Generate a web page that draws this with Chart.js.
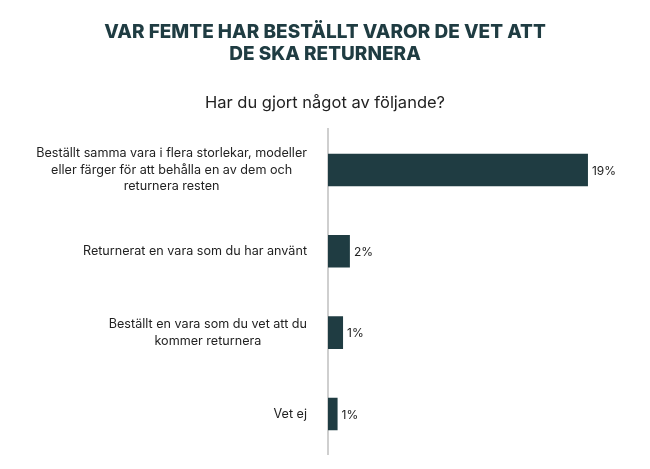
<!DOCTYPE html>
<html>
<head>
<meta charset="utf-8">
<script src="https://cdn.jsdelivr.net/npm/chart.js@4"></script>
<style>
  body { margin: 0; background: #fff; }
  #wrap { width: 650px; height: 469px; }
</style>
</head>
<body>
<div id="wrap"><canvas id="myChart"></canvas></div>
<script>
// categories (each one split in lines as in the picture)
const categories = [
    ['Beställt samma vara i flera storlekar, modeller', 'eller färger för att behålla en av dem och', 'returnera resten'],
    ['Returnerat en vara som du har använt'],
    ['Beställt en vara som du vet att du', 'kommer returnera'],
    ['Vet ej']
]
// share in percent
const values = [19, 1.6, 1.1, 0.7]
// printed value labels
const valueLabels = ['19%', '2%', '1%', '1%']

const darkTeal = '#1f3c42'
const labelFont = '12.6px Inter, "Noto Sans", sans-serif'

// draws category labels and value labels
const labelPlugin = {
    id: 'labelPlugin',
    afterDatasetsDraw(chart) {
        const c = chart.ctx
        const yScale = chart.scales.y
        const meta = chart.getDatasetMeta(0)
        c.save()
        c.fillStyle = '#222'
        c.textBaseline = 'middle'

        // category labels, right edge at 307, lines centred on the widest one
        c.font = labelFont
        const lineH = 16.5
        categories.forEach((lines, i) => {
            const yc = yScale.getPixelForTick(i)
            const widest = Math.max(...lines.map(l => c.measureText(l).width))
            const cx = 307 - widest / 2
            const top = yc - (lines.length - 1) * lineH / 2
            c.textAlign = 'center'
            lines.forEach((l, j) => c.fillText(l, cx, top + j * lineH))
        })

        // value labels
        c.font = '12px Inter, "Noto Sans", sans-serif'
        c.textAlign = 'left'
        meta.data.forEach((bar, i) => {
            c.fillText(valueLabels[i], bar.x + 4, bar.y + 1)
        })
        c.restore()
    }
}

const ctx = document.getElementById('myChart').getContext('2d')

const myChart = new Chart(ctx, {
    type: 'bar',
    data: {
        labels: categories,
        datasets: [{
            data: values,
            backgroundColor: darkTeal,
            borderWidth: 0,
            barPercentage: 0.4,
            categoryPercentage: 1
        }]
    },
    options: {
        indexAxis: 'y',
        responsive: true,
        maintainAspectRatio: false,
        animation: false,
        layout: {
            padding: { left: 21, right: 21, top: 0, bottom: 14.4 }
        },
        scales: {
            x: {
                display: false,
                min: 0,
                max: 22
            },
            y: {
                grid: { display: false },
                border: { display: true, color: '#cfcfcf', width: 2 },
                ticks: { display: false },
                afterFit(scale) { scale.width = 307 }
            }
        },
        plugins: {
            legend: { display: false },
            tooltip: { enabled: false },
            title: {
                display: true,
                text: ['VAR FEMTE HAR BESTÄLLT VAROR DE VET ATT', 'DE SKA RETURNERA'],
                color: darkTeal,
                font: { family: 'Inter', size: 19, weight: '800', lineHeight: 1.18 },
                padding: { top: 21, bottom: 27.3 }
            },
            subtitle: {
                display: true,
                text: 'Har du gjort något av följande?',
                color: '#222',
                font: { family: 'Inter', size: 16.5, weight: '400', lineHeight: 1.2 },
                padding: { top: 0, bottom: 16.4 }
            }
        }
    },
    plugins: [labelPlugin]
})
</script>
</body>
</html>
